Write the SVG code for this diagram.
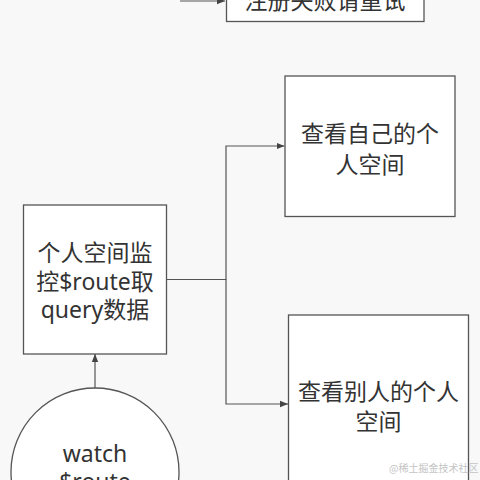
<svg xmlns="http://www.w3.org/2000/svg" width="480" height="480" viewBox="0 0 480 480">
<defs>
<style>
.box{fill:#ffffff;stroke:#555555;stroke-width:1.3}
.t{font-family:"Noto Sans","Noto Sans CJK SC",sans-serif;font-size:23px;fill:#333333;text-anchor:middle}
.c{fill:none;stroke:#555555;stroke-width:1.2}
.wm{font-family:"Noto Sans CJK SC",sans-serif;font-size:10px;fill:#c4c4c4}
</style>
<marker id="ah" viewBox="0 0 10 10" refX="10" refY="5" markerWidth="8" markerHeight="8" markerUnits="userSpaceOnUse" orient="auto">
<path d="M0,1 L10,5 L0,9 z" fill="#444444"/>
</marker>
</defs>
<rect width="480" height="480" fill="#f8f8f8"/>
<g id="connectors">
<path class="c" d="M180,1 L225,1" marker-end="url(#ah)"/>
<path class="c" d="M166.5,279.5 L226,279.5 L226,146 L284.5,146" marker-end="url(#ah)"/>
<path class="c" d="M226,279.5 L226,404 L288,404" marker-end="url(#ah)"/>
<path class="c" d="M95,388 L95,354" marker-end="url(#ah)"/>
</g>
<g id="node-register-fail">
<rect class="box" x="226.5" y="-20" width="197.5" height="41.5"/>
<text class="t" x="325" y="9">注册失败请重试</text>
</g>
<g id="node-own-space">
<rect class="box" x="285" y="76" width="170" height="140.5"/>
<text class="t" x="370" y="142">查看自己的个</text>
<text class="t" x="370" y="172.5">人空间</text>
</g>
<g id="node-watch-query">
<rect class="box" x="23.5" y="205" width="143" height="149"/>
<text class="t" x="95" y="261">个人空间监</text>
<text class="t" x="95" y="289.5">控$route取</text>
<text class="t" x="95" y="318">query数据</text>
</g>
<g id="node-other-space">
<rect class="box" x="288.5" y="315" width="180" height="180"/>
<text class="t" x="378.5" y="400">查看别人的个人</text>
<text class="t" x="378.5" y="430">空间</text>
</g>
<g id="node-watch-route">
<circle class="box" cx="95" cy="472" r="84"/>
<text class="t" x="95" y="461.5">watch</text>
<text class="t" x="95" y="490">$route</text>
</g>
<text class="wm" x="389" y="472">@稀土掘金技术社区</text>
</svg>
